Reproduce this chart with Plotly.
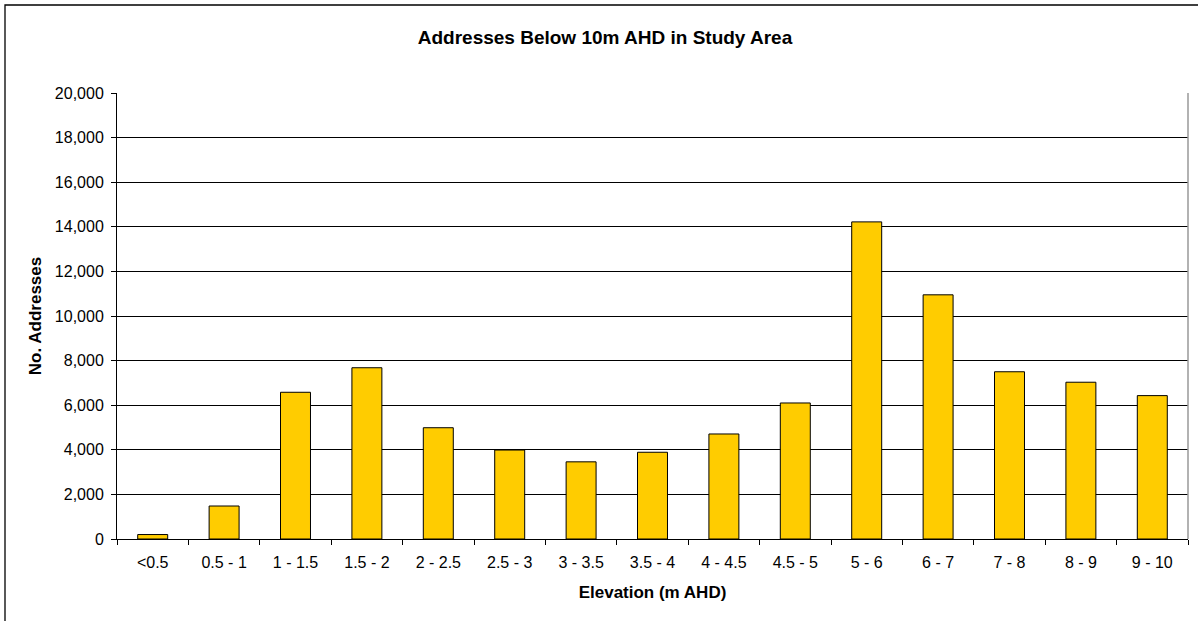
import plotly.graph_objects as go

# Elevation bands (m AHD) and the number of addresses in each
elevation_bands = ["<0.5", "0.5 - 1", "1 - 1.5", "1.5 - 2", "2 - 2.5", "2.5 - 3",
                   "3 - 3.5", "3.5 - 4", "4 - 4.5", "4.5 - 5", "5 - 6", "6 - 7",
                   "7 - 8", "8 - 9", "9 - 10"]
address_counts = [200, 1480, 6580, 7680, 4990, 3990, 3460, 3890, 4710, 6100,
                  14220, 10950, 7500, 7030, 6430]

y_ticks = list(range(0, 20001, 2000))
y_tick_labels = [f"{v:,}" for v in y_ticks]

W, H = 1198, 621
L, R, T, B = 117, 10, 93, 82
plot_w = W - L - R
plot_h = H - T - B

FONT = "Liberation Sans, Arial, sans-serif"

fig = go.Figure(
    go.Bar(
        x=elevation_bands,
        y=address_counts,
        marker=dict(color="#FFCC00", line=dict(color="#000000", width=1)),
        hoverinfo="x+y",
    )
)

def px_x(p):
    return (p - L) / plot_w

def px_y(p):
    return (H - B - p) / plot_h

fig.update_layout(
    width=W,
    height=H,
    margin=dict(l=L, r=R, t=T, b=B),
    paper_bgcolor="white",
    plot_bgcolor="white",
    bargap=0.58,
    showlegend=False,
    font=dict(family=FONT, size=16, color="#000000"),
    title=dict(
        text="<b>Addresses Below 10m AHD in Study Area</b>",
        x=605 / W, xanchor="center", xref="container",
        y=1 - 37 / H, yanchor="middle", yref="container",
        font=dict(family=FONT, size=19, color="#000000"),
    ),
    xaxis=dict(
        title=dict(text="<b>Elevation (m AHD)</b>", font=dict(size=17), standoff=15),
        tickfont=dict(size=16),
        ticklabelstandoff=9,
        showline=True, linecolor="#000000", linewidth=1,
        ticks="outside", ticklen=5, tickcolor="#000000",
        tickson="boundaries",
        showgrid=False,
        mirror=False,
    ),
    yaxis=dict(
        title=dict(text="<b>No. Addresses</b>", font=dict(size=17), standoff=8),
        range=[0, 20000],
        tickvals=y_ticks,
        ticktext=y_tick_labels,
        tickfont=dict(size=16),
        ticklabelstandoff=4,
        showline=True, linecolor="#000000", linewidth=1,
        ticks="outside", ticklen=5, tickcolor="#000000",
        showgrid=True, gridcolor="#000000", gridwidth=1,
        zeroline=False,
    ),
    shapes=[
        # grey right edge of the plot area
        dict(type="line", xref="paper", yref="paper", x0=1, x1=1, y0=0, y1=1,
             line=dict(color="#999999", width=1.5)),
        # outer chart frame
        dict(type="rect", xref="paper", yref="paper",
             x0=px_x(5), x1=px_x(1215), y0=px_y(640), y1=px_y(5),
             line=dict(color="#000000", width=1.3), layer="below"),
    ],
)

fig.write_html("out.html")
